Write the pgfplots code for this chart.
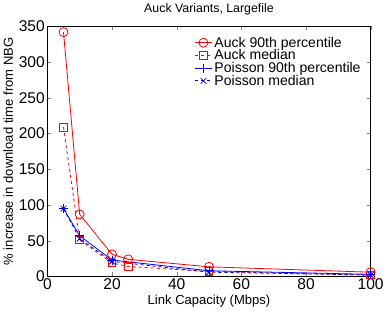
\documentclass[border=0pt]{standalone}
\usepackage{pgfplots}
\pgfplotsset{compat=1.18}
\usepackage{fontspec}
\setmainfont{Liberation Sans}
\begin{document}
\begin{tikzpicture}
\begin{axis}[
  scale only axis,
  width=322pt, height=249pt,
  xmin=0, xmax=100, ymin=0, ymax=350,
  xtick={0,20,40,60,80,100},
  ytick={0,50,100,150,200,250,300,350},
  tick align=inside,
  tick pos=both,
  major tick length=4pt,
  /pgf/number format/assume math mode=true,
  tick label style={font=\fontsize{15.5}{16}\selectfont},
  yticklabel style={xshift=1pt},
  xticklabel style={yshift=1pt},
  title={Auck Variants, Largefile},
  title style={font=\fontsize{12.3}{13}\selectfont, yshift=2pt},
  xlabel={Link Capacity (Mbps)},
  ylabel={\% increase in download time from NBG},
  label style={font=\fontsize{13}{14}\selectfont},
  xlabel style={yshift=2pt},
  ylabel style={yshift=-1pt},
  legend style={draw=none, fill=none, at={(0.985,0.975)}, anchor=north east, font=\fontsize{14}{15}\selectfont, row sep=-3pt},
  legend cell align=left,
  axis line style={line width=0.8pt},
]
\addplot[red, mark=o, mark size=4.5pt, thick] coordinates {(5,342) (10,87) (20,31) (25,24) (50,13.5) (100,6)};
\addlegendentry{Auck 90th percentile}
\addplot[red, dashed, thick, mark=square*, mark size=3.8pt, mark options={solid, fill=white, draw=red, fill opacity=0}] coordinates {(5,209) (10,51) (20,19) (25,14) (50,7) (100,2)};
\addlegendentry{Auck median}
\addplot[blue, mark=+, mark size=4.5pt, thick] coordinates {(5,95) (10,57) (20,23) (50,8) (100,3)};
\addlegendentry{Poisson 90th percentile}
\addplot[blue, dashed, mark=x, mark size=4pt, thick, mark options={solid, draw=blue}] coordinates {(5,95) (10,53) (20,21) (50,6) (100,2)};
\addlegendentry{Poisson median}
\end{axis}
\end{tikzpicture}
\end{document}
